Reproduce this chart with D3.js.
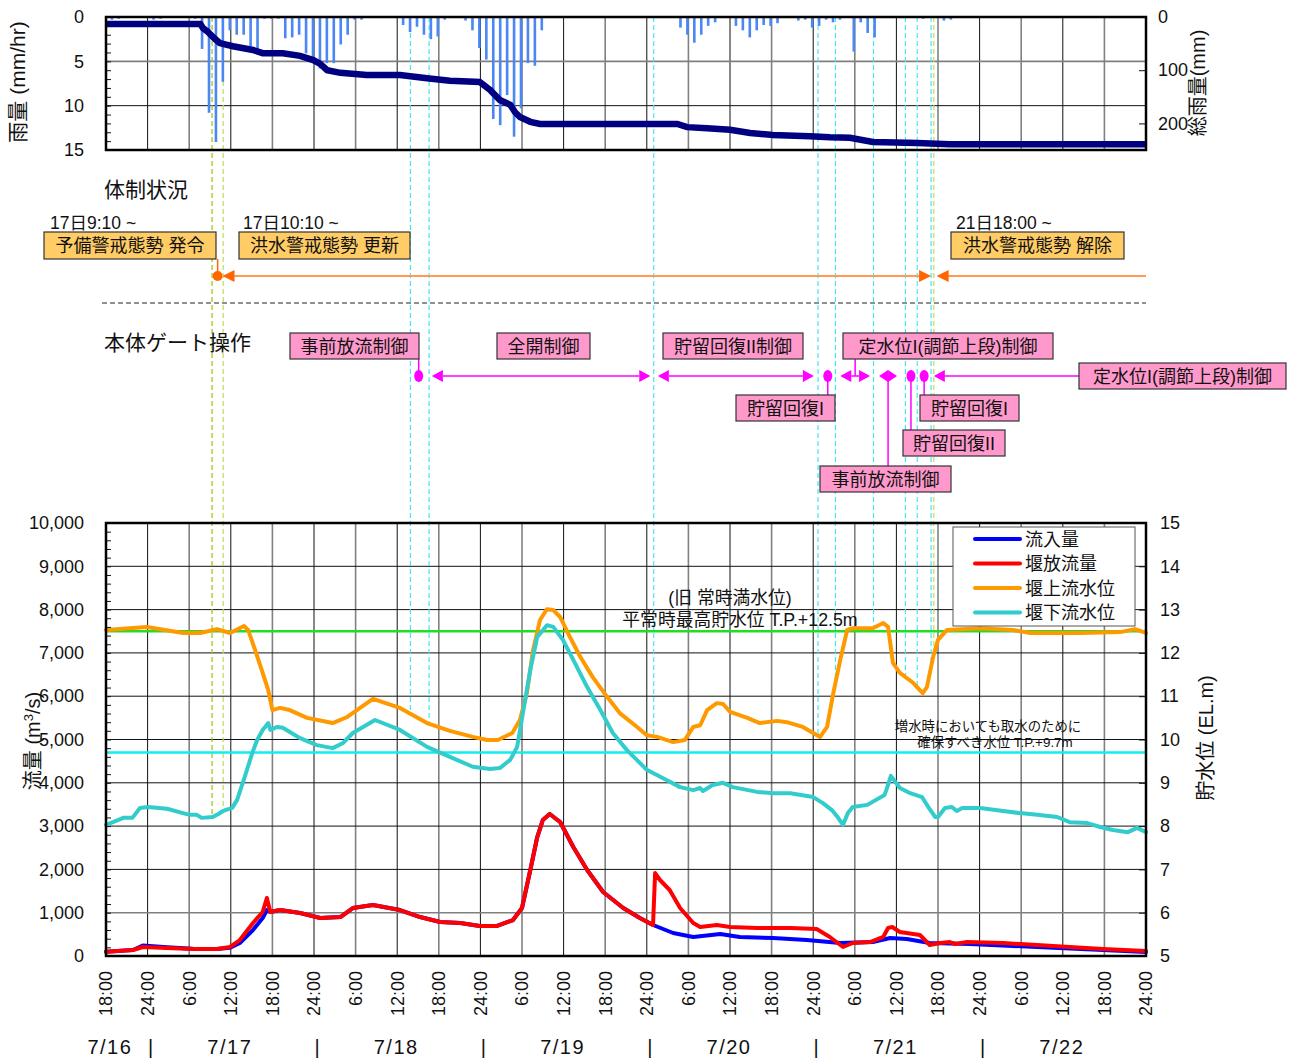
<!DOCTYPE html>
<html>
<head>
<meta charset="utf-8">
<script src="https://cdn.jsdelivr.net/npm/d3@7"></script>
<style>
  body { margin: 0; background: #fff; }
  svg text { font-family: "Liberation Sans", "Noto Sans CJK JP", sans-serif; fill: #111; }
</style>
</head>
<body>
<svg id="chart" width="1294" height="1063"></svg>
<script>
// all times are hours counted from 7/16 18:00 (axis ends at 7/22 24:00 = 150 h)
const hourTicks = d3.range(0, 151, 6);
const hourTickLabels = ["18:00","24:00","6:00","12:00","18:00","24:00","6:00","12:00","18:00",
  "24:00","6:00","12:00","18:00","24:00","6:00","12:00","18:00","24:00","6:00","12:00",
  "18:00","24:00","6:00","12:00","18:00","24:00"];
const dayLabels = ["7/16","7/17","7/18","7/19","7/20","7/21","7/22"];
const dayLabelHours = [0.7, 18, 42, 66, 90, 114, 138];
const daySepHours = [6, 30, 54, 78, 102, 126];

// hourly rainfall (mm/hr)
const rainHours = [1,2,7,8,13,14,15,16,17,18,19,20,21,22,23,24,25,26,27,28,29,30,31,32,33,34,35,36,37,39,40,42,43,44,45,46,47,48,49,50,52,53,54,55,56,57,58,59,60,61,62,63,65,70,83,84,85,86,87,88,89,90,91,92,93,94,95,96,97,98,100,101,102,103,104,105,106,107,108,109,110,111,113,118,119,121,122];
const rainValues = [0.3,0.2,0.3,0.2,0.2,3.6,10.8,14.1,7.3,1.5,2.0,2.0,3.3,3.7,0.2,0.2,0.2,2.4,2.3,2.0,4.1,4.7,5.8,5.2,5.2,3.1,2.0,0.3,0.3,0.1,0.1,0.1,0.9,1.7,1.1,2.0,2.5,2.2,0.3,0.1,0.4,1.5,3.5,4.8,11.5,12.2,8.8,13.5,10.3,5.2,5.5,1.5,0.1,0.1,1.2,2.0,2.9,2.0,1.0,0.6,0.1,0.1,1.0,1.5,2.3,1.5,0.9,1.0,0.7,0.1,0.4,0.3,1.2,1.0,0.3,0.6,0.3,0.1,3.9,0.6,1.8,2.3,0.1,0.2,0.1,0.4,0.3];

// total rainfall (mm)
const cumHours = [0,13.6,14.0,14.7,15.7,16.4,18.3,21.2,22.6,25.5,28.0,29.9,30.9,31.9,33.8,37.6,42.4,46.3,49.6,53.9,55.4,56.8,58.3,59.0,59.7,61.2,62.6,82.4,83.8,86.7,90.0,92.9,96.2,101.5,104.4,107.3,110.6,117.0,121.7,150];
const cumRain = [13,13,21,28,41,49,55,62,68,68,73,81,88,100,105,109,109,115,120,122,137,156,165,179,188,197,201,201,207,209,212,218,222,224,226,227,235,237,239,239];

// inflow (m3/s)
const inflow = [[0,100],[3.9,139],[5.3,240],[8.8,200],[12.5,170],[16.0,162],[17.9,190],[19.3,300],[21.2,600],[22.6,877],[23.2,1062],[23.7,1016],[25.1,1062],[28.0,993],[30.9,877],[33.8,900],[35.6,1108],[38.5,1178],[42.4,1062],[45.3,900],[48.2,785],[51.1,762],[53.9,693],[56.4,693],[58.7,831],[60.0,1108],[61.2,1986],[62.2,2748],[63.0,3140],[64.0,3279],[65.5,3094],[67.4,2517],[69.4,1986],[71.7,1478],[74.6,1108],[77.0,877],[78.9,716],[81.8,531],[84.7,439],[88.6,508],[91.4,439],[96.2,416],[101.1,369],[105.9,300],[110.6,323],[113.1,416],[115.5,392],[118.8,300],[124.6,277],[134.3,208],[143.8,139],[150,92]];

// weir outflow (m3/s)
const outflow = [[0,100],[3.9,139],[5.3,208],[8.8,185],[12.5,162],[16.0,162],[17.9,208],[19.3,369],[21.2,762],[22.6,1016],[23.2,1339],[23.7,1016],[25.1,1062],[28.0,993],[30.9,877],[33.8,900],[35.6,1108],[38.5,1178],[42.4,1062],[45.3,900],[48.2,785],[51.1,762],[53.9,693],[56.4,693],[58.7,831],[60.0,1108],[61.2,1986],[62.2,2748],[63.0,3140],[64.0,3279],[65.5,3094],[67.4,2517],[69.4,1986],[71.7,1478],[74.6,1108],[77.0,877],[78.9,716],[79.2,1916],[79.9,1755],[81.3,1524],[82.8,1108],[84.7,762],[85.7,670],[88.1,716],[90.0,670],[93.9,647],[98.7,647],[102.5,623],[104.4,439],[106.3,208],[107.7,300],[110.2,323],[112.1,439],[112.8,647],[113.4,670],[114.5,554],[117.4,485],[118.8,254],[120.3,300],[121.7,323],[122.5,277],[124.2,323],[129.4,300],[134.3,254],[139.0,208],[143.8,162],[150,115]];

// upstream water level (EL.m)
const upLevel = [[0,12.53],[5.9,12.60],[11.1,12.46],[13.6,12.46],[16.0,12.55],[17.9,12.46],[19.9,12.62],[20.5,12.53],[21.5,12.07],[22.6,11.54],[23.4,11.14],[24.0,10.68],[25.1,10.73],[26.5,10.68],[29.0,10.50],[32.7,10.38],[34.8,10.52],[38.5,10.94],[42.4,10.73],[46.3,10.38],[49.6,10.20],[52.9,10.06],[55.0,9.99],[56.5,9.99],[58.6,10.15],[59.7,10.45],[60.7,11.07],[61.6,12.07],[62.6,12.76],[63.6,13.01],[64.5,12.99],[65.5,12.83],[66.9,12.37],[68.4,11.91],[70.2,11.44],[72.3,10.98],[74.1,10.61],[76.6,10.29],[78.0,10.10],[79.5,10.06],[81.8,9.94],[83.5,9.99],[84.7,10.29],[85.7,10.33],[86.7,10.68],[88.1,10.84],[89.0,10.82],[90.0,10.64],[92.5,10.50],[94.3,10.38],[96.8,10.43],[98.2,10.40],[100.5,10.29],[103.0,10.06],[104.0,10.29],[104.9,11.07],[105.9,11.84],[106.9,12.53],[107.7,12.57],[110.6,12.57],[112.1,12.69],[112.8,12.60],[113.5,11.77],[114.5,11.54],[116.4,11.31],[117.8,11.07],[118.4,11.21],[119.3,11.91],[120.0,12.30],[121.3,12.53],[126.1,12.57],[130.8,12.53],[133.3,12.46],[140.5,12.46],[146.3,12.48],[148.4,12.55],[150,12.46]];

// downstream water level (EL.m)
const downLevel = [[0,8.03],[1.0,8.09],[2.5,8.19],[3.8,8.19],[4.9,8.42],[6.1,8.44],[8.8,8.40],[11.1,8.30],[12.1,8.26],[13.1,8.26],[13.8,8.19],[15.4,8.21],[16.2,8.28],[16.9,8.35],[18.2,8.42],[18.9,8.60],[20.0,9.13],[21.1,9.69],[21.8,9.99],[22.6,10.22],[23.4,10.38],[23.7,10.22],[24.7,10.29],[25.5,10.27],[28.0,10.03],[30.4,9.87],[32.7,9.80],[34.2,9.92],[35.6,10.15],[38.8,10.45],[42.4,10.22],[46.3,9.83],[49.6,9.60],[52.9,9.37],[55.4,9.32],[56.8,9.34],[58.3,9.53],[59.3,9.83],[60.2,10.68],[61.2,11.61],[62.2,12.37],[63.6,12.64],[64.5,12.60],[65.9,12.30],[67.4,11.84],[69.4,11.21],[71.3,10.68],[73.1,10.15],[75.1,9.76],[78.0,9.30],[80.9,9.06],[82.8,8.90],[84.7,8.83],[85.7,8.88],[86.1,8.81],[87.5,8.95],[89.0,9.00],[90.4,8.90],[93.9,8.79],[96.2,8.76],[98.7,8.76],[102.0,8.67],[103.4,8.53],[104.7,8.37],[105.6,8.19],[106.3,8.03],[107.0,8.30],[107.7,8.44],[109.8,8.49],[112.3,8.72],[112.8,8.95],[113.2,9.16],[114.5,8.88],[116.0,8.76],[117.7,8.67],[118.6,8.44],[119.6,8.21],[120.0,8.21],[121.0,8.42],[122.0,8.44],[122.7,8.35],[123.5,8.42],[126.1,8.42],[129.4,8.35],[131.8,8.30],[134.3,8.26],[137.2,8.21],[139.0,8.09],[141.5,8.07],[143.4,7.98],[145.2,7.91],[147.4,7.86],[148.7,7.96],[150,7.86]];

const normalHighLevel = 12.5;
const intakeLevel = 9.7;

// event lines
const alertLineHours = [15.3, 16.9, 119.4];
const alertLineEndsOn = ["down", "down", "up"];
const gateLineHours = [43.9, 46.6, 79.0, 102.7, 105.2, 110.7, 115.3, 117.0, 119.0];

// alert status
const statusTimes = ["17日9:10 ~", "17日10:10 ~", "21日18:00 ~"];
const statusNames = ["予備警戒態勢 発令", "洪水警戒態勢 更新", "洪水警戒態勢 解除"];
const statusDotHour = 16.1;
const floodPeriod = [16.8, 119.0];
const releaseHour = 119.8;

// gate operations
const gateNames = ["事前放流制御","全開制御","貯留回復II制御","貯留回復I","定水位I(調節上段)制御","事前放流制御","貯留回復II","貯留回復I","定水位I(調節上段)制御"];
const gateStart = [45.1, 47.0, 79.6, 104.1, 105.9, 111.5, 116.1, 118.0, 119.4];
const gateEnd = [null, 78.5, 102.1, null, 110.2, 114.1, null, null, null];

const seriesNames = ["流入量", "堰放流量", "堰上流水位", "堰下流水位"];

// ---------------------------------------------------------------
const svg = d3.select("#chart");
const X0 = 106, X1 = 1146;
const TOP0 = 17, TOP1 = 150, BOT0 = 523, BOT1 = 956;

const x = d3.scaleLinear().domain([0, 150]).range([X0, X1]);
const yRain = d3.scaleLinear().domain([0, 15]).range([TOP0, TOP1]);
const yCum = d3.scaleLinear().domain([0, 250]).range([TOP0, TOP1]);
const yFlow = d3.scaleLinear().domain([0, 10000]).range([BOT1, BOT0]);
const yLevel = d3.scaleLinear().domain([5, 15]).range([BOT1, BOT0]);

const colors = { inflow: "#0000ff", outflow: "#ff0000", up: "#ff9900", down: "#33cccc" };

function interp(series, h) {
  const i = d3.bisector(d => d[0]).left(series, h);
  if (i <= 0) return series[0][1];
  if (i >= series.length) return series[series.length - 1][1];
  const a = series[i - 1], b = series[i];
  return a[1] + (b[1] - a[1]) * (h - a[0]) / (b[0] - a[0]);
}

// ---------- grids ----------
function vGrid(y0, y1) {
  svg.append("g").selectAll("line").data(hourTicks).join("line")
    .attr("x1", d => x(d)).attr("x2", d => x(d))
    .attr("y1", y0).attr("y2", y1)
    .attr("stroke", (d, i) => i % 2 === 0 ? "#808080" : "#111")
    .attr("stroke-width", (d, i) => i % 2 === 0 ? 1.6 : 1);
}
vGrid(TOP0, TOP1);
vGrid(BOT0, BOT1);

svg.append("g").selectAll("line").data([5, 10]).join("line")
  .attr("x1", X0).attr("x2", X1)
  .attr("y1", d => yRain(d)).attr("y2", d => yRain(d))
  .attr("stroke", d => d === 5 ? "#808080" : "#111")
  .attr("stroke-width", d => d === 5 ? 1.6 : 1);

svg.append("g").selectAll("line").data(d3.range(1000, 10000, 1000)).join("line")
  .attr("x1", X0).attr("x2", X1)
  .attr("y1", d => yFlow(d)).attr("y2", d => yFlow(d))
  .attr("stroke", d => d === 1000 ? "#808080" : "#111")
  .attr("stroke-width", d => d === 1000 ? 1.6 : 1);

// ---------- event dashed lines ----------
const evG = svg.append("g");
evG.selectAll("line.gate").data(gateLineHours).join("line")
  .attr("class", "gate")
  .attr("x1", d => x(d)).attr("x2", d => x(d))
  .attr("y1", TOP0).attr("y2", d => yLevel(interp(upLevel, d)))
  .attr("stroke", "#33e6f2").attr("stroke-width", 1.1)
  .attr("stroke-dasharray", "5,3");
evG.selectAll("line.alert").data(alertLineHours).join("line")
  .attr("class", "alert")
  .attr("x1", d => x(d)).attr("x2", d => x(d))
  .attr("y1", TOP0)
  .attr("y2", (d, i) => yLevel(interp(alertLineEndsOn[i] === "down" ? downLevel : upLevel, d)))
  .attr("stroke", (d, i) => i === 0 ? "#9cc400" : "#c2d95a").attr("stroke-width", 1.2)
  .attr("stroke-dasharray", "5,3");

// ---------- rainfall panel ----------
svg.append("g").selectAll("rect").data(rainHours).join("rect")
  .attr("x", d => x(d) - 2.3).attr("width", 2.6)
  .attr("y", TOP0)
  .attr("height", (d, i) => yRain(rainValues[i]) - TOP0)
  .attr("fill", "#4a86f4");

svg.append("path")
  .datum(cumHours.map((h, i) => [h, cumRain[i]]))
  .attr("fill", "none").attr("stroke", "#000080").attr("stroke-width", 6.5)
  .attr("d", d3.line().x(d => x(d[0])).y(d => yCum(d[1])));

// axes for rainfall
svg.append("g").attr("transform", `translate(${X0},0)`)
  .call(d3.axisLeft(yRain).tickValues([0, 5, 10, 15]).tickSize(0).tickPadding(22));
svg.append("g").attr("transform", `translate(${X0},0)`)
  .call(d3.axisRight(yRain).tickValues(d3.range(1, 15)).tickSize(5).tickFormat(""));
svg.append("g").attr("transform", `translate(${X1},0)`)
  .call(d3.axisRight(yCum).tickValues([0, 100, 200]).tickSize(0).tickPadding(12));
svg.append("g").attr("transform", `translate(${X1},0)`)
  .call(d3.axisLeft(yCum).tickValues([100, 200]).tickSize(7).tickFormat(""));

svg.append("rect").attr("x", X0).attr("y", TOP0).attr("width", X1 - X0).attr("height", TOP1 - TOP0)
  .attr("fill", "none").attr("stroke", "#000").attr("stroke-width", 2.5);

svg.append("text").attr("transform", "translate(18,82) rotate(-90)")
  .attr("text-anchor", "middle").attr("dy", "0.35em").style("font-size", "21px").text("雨量 (mm/hr)");
svg.append("text").attr("transform", "translate(1198,83) rotate(-90)")
  .attr("text-anchor", "middle").attr("dy", "0.35em").style("font-size", "20px").text("総雨量(mm)");

// ---------- alert status section ----------
svg.append("text").attr("x", 104).attr("y", 197).style("font-size", "21px").text("体制状況");

const statusBoxes = [[44, 232, 172], [239, 232, 171], [951, 232, 173]];
const statusTextX = [50, 243, 956];
const stG = svg.append("g");

// connector from first box to the dot
stG.append("line")
  .attr("x1", x(statusDotHour)).attr("x2", x(statusDotHour))
  .attr("y1", 259).attr("y2", 276)
  .attr("stroke", "#ff6600").attr("stroke-width", 1.5);

statusNames.forEach((name, i) => {
  const [bx, by, bw] = statusBoxes[i];
  stG.append("text").attr("x", statusTextX[i]).attr("y", 229).style("font-size", "17.5px").text(statusTimes[i]);
  stG.append("rect").attr("x", bx).attr("y", by).attr("width", bw).attr("height", 27)
    .attr("fill", "#ffcc66").attr("stroke", "#333").attr("stroke-width", 1.2);
  stG.append("text").attr("x", bx + bw / 2).attr("y", by + 20).attr("text-anchor", "middle")
    .style("font-size", "18px").text(name);
});

function arrowHead(g, tipX, y, dir, color, len, half) {
  g.append("path")
    .attr("d", `M${tipX},${y}L${tipX - dir * len},${y - half}L${tipX - dir * len},${y + half}Z`)
    .attr("fill", color);
}

const statusY = 276;
stG.append("line").attr("x1", x(floodPeriod[0]) + 10).attr("x2", x(floodPeriod[1]) - 10)
  .attr("y1", statusY).attr("y2", statusY).attr("stroke", "#ff9955").attr("stroke-width", 2);
arrowHead(stG, x(floodPeriod[0]), statusY, -1, "#ff6600", 12, 6);
arrowHead(stG, x(floodPeriod[1]), statusY, 1, "#ff6600", 12, 6);
stG.append("line").attr("x1", x(releaseHour) + 10).attr("x2", X1)
  .attr("y1", statusY).attr("y2", statusY).attr("stroke", "#ff9955").attr("stroke-width", 2);
arrowHead(stG, x(releaseHour), statusY, -1, "#ff6600", 12, 6);
stG.append("circle").attr("cx", x(statusDotHour)).attr("cy", statusY).attr("r", 5).attr("fill", "#ff6600");

svg.append("line").attr("x1", 102).attr("x2", X1).attr("y1", 303).attr("y2", 303)
  .attr("stroke", "#222").attr("stroke-width", 1.2).attr("stroke-dasharray", "5,3");

// ---------- gate operation section ----------
svg.append("text").attr("x", 104).attr("y", 350).style("font-size", "21px").text("本体ゲート操作");

const gateY = 376;
const gateBoxes = [[290, 333, 129], [497, 333, 93], [663, 333, 140], [736, 395, 99], [843, 333, 210],
  [820, 466, 131], [903, 430, 102], [920, 395, 99], [1079, 363, 207]];
const gateConnector = ["v", null, null, "v", "v", "v", "v", "v", "h"];
const MAG = "#ff00ff";
const gtG = svg.append("g");

gateNames.forEach((name, i) => {
  const [bx, by, bw] = gateBoxes[i];
  const s = x(gateStart[i]);
  const e = gateEnd[i] == null ? null : x(gateEnd[i]);
  const cx = e == null ? s : (s + e) / 2;
  if (gateConnector[i] === "v") {
    const yb = by > gateY ? by : by + 26;
    gtG.append("line").attr("x1", cx).attr("x2", cx).attr("y1", gateY).attr("y2", yb)
      .attr("stroke", MAG).attr("stroke-width", 1.5);
  }
  if (gateConnector[i] === "h") {
    gtG.append("line").attr("x1", s + 8).attr("x2", bx).attr("y1", gateY).attr("y2", gateY)
      .attr("stroke", MAG).attr("stroke-width", 1.5);
    arrowHead(gtG, s, gateY, -1, MAG, 11, 6);
  } else if (e == null) {
    gtG.append("ellipse").attr("cx", s).attr("cy", gateY).attr("rx", 4.5).attr("ry", 6).attr("fill", MAG);
  } else {
    const len = Math.min(11, (e - s) / 2);
    if (e - s > 2 * len) {
      gtG.append("line").attr("x1", s + len).attr("x2", e - len).attr("y1", gateY).attr("y2", gateY)
        .attr("stroke", MAG).attr("stroke-width", 1.5);
    }
    arrowHead(gtG, s, gateY, -1, MAG, len, 6);
    arrowHead(gtG, e, gateY, 1, MAG, len, 6);
  }
  gtG.append("rect").attr("x", bx).attr("y", by).attr("width", bw).attr("height", 26)
    .attr("fill", "#ff99cc").attr("stroke", "#333").attr("stroke-width", 1.2);
  gtG.append("text").attr("x", bx + bw / 2).attr("y", by + 19.5).attr("text-anchor", "middle")
    .style("font-size", "18px").text(name);
});

// ---------- main flow / level panel ----------
svg.append("line").attr("x1", X0).attr("x2", X1)
  .attr("y1", yLevel(normalHighLevel)).attr("y2", yLevel(normalHighLevel))
  .attr("stroke", "#22dd22").attr("stroke-width", 2.5);
svg.append("line").attr("x1", X0).attr("x2", X1)
  .attr("y1", yLevel(intakeLevel)).attr("y2", yLevel(intakeLevel))
  .attr("stroke", "#11eeee").attr("stroke-width", 2.5);

const flowLine = d3.line().x(d => x(d[0])).y(d => yFlow(d[1]));
const levelLine = d3.line().x(d => x(d[0])).y(d => yLevel(d[1]));

function drawSeries(data, gen, color) {
  svg.append("path").datum(data)
    .attr("fill", "none").attr("stroke", color).attr("stroke-width", 4)
    .attr("stroke-linejoin", "round").attr("stroke-linecap", "round")
    .attr("d", gen);
}
drawSeries(upLevel, levelLine, colors.up);
drawSeries(downLevel, levelLine, colors.down);
drawSeries(inflow, flowLine, colors.inflow);
drawSeries(outflow, flowLine, colors.outflow);

// reference line notes
svg.append("text").attr("x", 730).attr("y", 604).attr("text-anchor", "middle")
  .style("font-size", "17.8px").text("(旧 常時満水位)");
svg.append("text").attr("x", 740).attr("y", 626).attr("text-anchor", "middle")
  .style("font-size", "17.8px").text("平常時最高貯水位 T.P.+12.5m");
svg.append("text").attr("x", 988).attr("y", 731).attr("text-anchor", "middle")
  .style("font-size", "13.4px").text("増水時においても取水のために");
svg.append("text").attr("x", 995).attr("y", 747).attr("text-anchor", "middle")
  .style("font-size", "13.4px").text("確保すべき水位 T.P.+9.7m");

// legend
const lg = svg.append("g");
lg.append("rect").attr("x", 953).attr("y", 527).attr("width", 182).attr("height", 99)
  .attr("fill", "#fff").attr("stroke", "#555").attr("stroke-width", 1);
const legendColors = [colors.inflow, colors.outflow, colors.up, colors.down];
seriesNames.forEach((n, i) => {
  const ly = 539 + i * 24.5;
  lg.append("line").attr("x1", 975).attr("x2", 1020).attr("y1", ly).attr("y2", ly)
    .attr("stroke", legendColors[i]).attr("stroke-width", 4).attr("stroke-linecap", "round");
  lg.append("text").attr("x", 1025).attr("y", ly + 6.5).style("font-size", "18px").text(n);
});

// axes for main panel
svg.append("g").attr("transform", `translate(${X0},0)`)
  .call(d3.axisLeft(yFlow).tickValues(d3.range(0, 10001, 1000)).tickFormat(d3.format(",")).tickSize(0).tickPadding(22));
svg.append("g").attr("transform", `translate(${X0},0)`)
  .call(d3.axisRight(yFlow).tickValues(d3.range(200, 10000, 200)).tickSize(5).tickFormat(""));
svg.append("g").attr("transform", `translate(${X1},0)`)
  .call(d3.axisRight(yLevel).tickValues(d3.range(5, 16, 1)).tickSize(0).tickPadding(14).tickFormat(d3.format("d")));
svg.append("g").attr("transform", `translate(${X1},0)`)
  .call(d3.axisLeft(yLevel).tickValues(d3.range(6, 15, 1)).tickSize(7).tickFormat(""));

svg.append("rect").attr("x", X0).attr("y", BOT0).attr("width", X1 - X0).attr("height", BOT1 - BOT0)
  .attr("fill", "none").attr("stroke", "#000").attr("stroke-width", 2.5);

// x tick labels (rotated)
svg.append("g").selectAll("text").data(hourTicks).join("text")
  .attr("transform", d => `translate(${x(d)},971) rotate(-90)`)
  .attr("text-anchor", "end").attr("dy", "0.35em")
  .style("font-size", "18px")
  .text((d, i) => hourTickLabels[i]);

svg.append("g").selectAll("text").data(dayLabels).join("text")
  .attr("x", (d, i) => x(dayLabelHours[i]) - 1).attr("y", 1054)
  .attr("text-anchor", "middle").style("font-size", "20px").style("letter-spacing", "1.5px")
  .text(d => d);
svg.append("g").selectAll("text").data(daySepHours).join("text")
  .attr("x", d => x(d) + 3).attr("y", 1054)
  .attr("text-anchor", "middle").style("font-size", "20px").text("|");

// axis titles
const ft = svg.append("text").attr("transform", "translate(33,741) rotate(-90)")
  .attr("text-anchor", "middle").attr("dy", "0.35em").style("font-size", "20px");
ft.append("tspan").text("流量 (m");
ft.append("tspan").attr("baseline-shift", "super").style("font-size", "13px").text("3");
ft.append("tspan").text("/s)");
svg.append("text").attr("transform", "translate(1206,738) rotate(-90)")
  .attr("text-anchor", "middle").attr("dy", "0.35em").style("font-size", "20px").text("貯水位 (EL.m)");

// tick label styling
svg.selectAll(".tick text").style("font-size", "18px").attr("fill", "#111");
svg.selectAll(".domain").remove();
svg.selectAll(".tick line").attr("stroke", "#111");
</script>
</body>
</html>
